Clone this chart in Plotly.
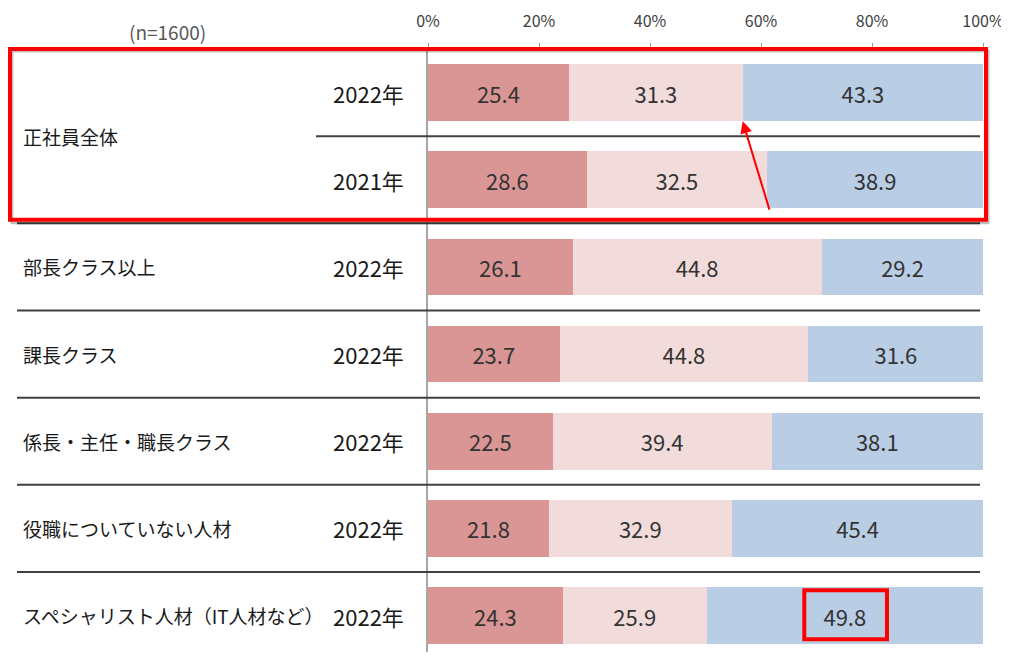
import plotly.graph_objects as go

# ---- data ----
categories = ["正社員全体", "部長クラス以上", "課長クラス", "係長・主任・職長クラス",
              "役職についていない人材", "スペシャリスト人材（IT人材など）"]
row_category = ["正社員全体", "正社員全体", "部長クラス以上", "課長クラス",
                "係長・主任・職長クラス", "役職についていない人材", "スペシャリスト人材（IT人材など）"]
row_years = ["2022年", "2021年", "2022年", "2022年", "2022年", "2022年", "2022年"]
series1 = [25.4, 28.6, 26.1, 23.7, 22.5, 21.8, 24.3]
series2 = [31.3, 32.5, 44.8, 44.8, 39.4, 32.9, 25.9]
series3 = [43.3, 38.9, 29.2, 31.6, 38.1, 45.4, 49.8]
x_ticks = [0, 20, 40, 60, 80, 100]
x_tick_labels = ["0%", "20%", "40%", "60%", "80%", "100%"]
sample_note = "(n=1600)"

colors = ["#D99694", "#F2DCDB", "#B9CDE5"]
font_jp = "Noto Sans CJK JP, Meiryo, sans-serif"

rows = list(range(len(row_years)))

# page body has an 8px margin; figure is sized so the page does not overflow
OFF = 8
FW, FH = 1009 - OFF, 660 - 2 * OFF
L, T, B = 428 - OFF, 45 - OFF, 0
R = FW - (983 - OFF)
W = FW - L - R
H = FH - T - B
PITCH = 87.75
Y_BOTTOM = -0.5 + H / PITCH


def px_x(px):
    """reference-window pixel x -> paper x"""
    return (px - OFF - L) / W


def px_y(py):
    """reference-window pixel y -> paper y"""
    return 1 - (py - OFF - T) / H


fig = go.Figure()
for vals, col in zip([series1, series2, series3], colors):
    fig.add_trace(go.Bar(
        x=vals, y=rows, orientation="h",
        marker=dict(color=col, line=dict(width=0)),
        text=[f"{v:.1f}" for v in vals],
        texttemplate="%{text}",
        textposition="inside", insidetextanchor="middle", textangle=0,
        constraintext="none",
        textfont=dict(size=22, color="#333333", family=font_jp),
        hoverinfo="skip", showlegend=False,
    ))

shapes = []
# separator lines between rows
for i, b in enumerate([0.5, 1.5, 2.5, 3.5, 4.5, 5.5]):
    x0 = px_x(316) if i == 0 else px_x(17)
    shapes.append(dict(type="line", xref="paper", yref="y",
                       x0=x0, x1=px_x(980), y0=b, y1=b,
                       line=dict(color="#404040", width=2)))

annotations = []
# category labels
cat_rows = {}
for r, c in zip(rows, row_category):
    cat_rows.setdefault(c, []).append(r)
for c in categories:
    rr = cat_rows[c]
    annotations.append(dict(
        text=c, xref="paper", yref="y", x=px_x(21), y=sum(rr) / len(rr),
        xanchor="left", yanchor="middle", showarrow=False,
        font=dict(size=19, color="#1a1a1a", family=font_jp)))
# year labels
for r, yl in zip(rows, row_years):
    annotations.append(dict(
        text=yl, xref="paper", yref="y", x=px_x(406), y=r,
        xanchor="right", yanchor="middle", showarrow=False,
        font=dict(size=22, color="#1a1a1a", family=font_jp)))
# sample size note
annotations.append(dict(
    text=sample_note, xref="paper", yref="paper", x=px_x(167), y=px_y(27),
    xanchor="center", yanchor="middle", showarrow=False,
    font=dict(size=19, color="#595959", family=font_jp)))

# highlight box around 正社員全体 (faint shadow, then red frame)
shapes.append(dict(type="rect", xref="paper", yref="paper",
                   x0=px_x(12), x1=px_x(988),
                   y0=px_y(220), y1=px_y(47),
                   line=dict(color="rgba(0,0,0,0.25)", width=3)))
shapes.append(dict(type="rect", xref="paper", yref="paper",
                   x0=px_x(10), x1=px_x(986),
                   y0=px_y(217), y1=px_y(45),
                   line=dict(color="#FF0000", width=4)))
# highlight box around last value
last_start = series1[-1] + series2[-1]
last_mid = last_start + series3[-1] / 2
shapes.append(dict(type="rect", xref="x", yref="y",
                   x0=last_mid - 7.3, x1=last_mid + 7.6,
                   y0=5.71, y1=6.27,
                   line=dict(color="#FF0000", width=4)))

# red arrow pointing to 2022 boundary
arrow_x = series1[0] + series2[0]
annotations.append(dict(
    x=arrow_x, y=0.33, xref="x", yref="y",
    ax=arrow_x + 4.9, ay=1.36, axref="x", ayref="y",
    showarrow=True, arrowhead=2, arrowsize=1.2, arrowwidth=2,
    arrowcolor="#FF0000", text=""))

fig.update_layout(
    barmode="stack", bargap=0.35,
    width=FW, height=FH,
    margin=dict(l=L, r=R, t=T, b=B, pad=0),
    plot_bgcolor="white", paper_bgcolor="white",
    shapes=shapes, annotations=annotations,
    xaxis=dict(range=[0, 100], side="top", tickvals=x_ticks, ticktext=x_tick_labels,
               showgrid=False, zeroline=False, showline=False,
               ticks="outside", ticklen=5, tickcolor="#999999",
               ticklabelstandoff=10,
               tickfont=dict(size=16, color="#404040", family=font_jp)),
    yaxis=dict(range=[Y_BOTTOM, -0.5], showticklabels=False, showgrid=False,
               zeroline=False, showline=True, linecolor="#A6A6A6", linewidth=2,
               tickvals=[0.5, 1.5, 2.5, 3.5, 4.5, 5.5], ticks="inside",
               ticklen=5, tickcolor="#808080"),
)

fig.write_html("out.html")
